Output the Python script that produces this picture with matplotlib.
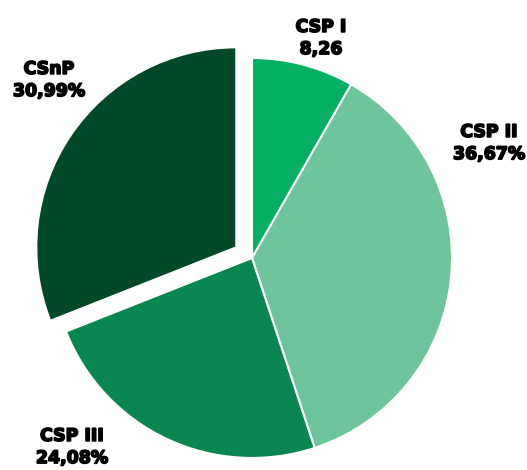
import matplotlib.pyplot as plt
import matplotlib.patheffects as pe

# data
labels = ['CSP I', 'CSP II', 'CSP III', 'CSnP']
values = [8.26, 36.67, 24.08, 30.99]
value_txt = ['8,26', '36,67%', '24,08%', '30,99%']
colors = ['#05b062', '#6ec59c', '#0a8650', '#024a27']
explode = [0, 0, 0, 19]   # in pixel units here (axes are in pixels)

# label positions (pixels from top-left)
label_pos = [(321, 38), (489, 143), (72, 447), (49, 80)]

W, H = 527, 470
fig = plt.figure(figsize=(W / 100, H / 100), dpi=100)
ax = fig.add_axes([0, 0, 1, 1])

ax.pie(values, colors=colors, explode=explode, startangle=90, counterclock=False,
       center=(252, H - 258), radius=200, frame=True,
       wedgeprops=dict(edgecolor='white', linewidth=1.5))
ax.set_xlim(0, W)
ax.set_ylim(0, H)
ax.set_aspect('equal')
ax.axis('off')

for lab, val, (x, y) in zip(labels, value_txt, label_pos):
    ax.text(x, H - y, lab + '\n' + val, ha='center', va='center',
            fontsize=12.5, fontweight='bold', family='DejaVu Sans',
            linespacing=1.3, color='black',
            path_effects=[pe.withStroke(linewidth=1.2, foreground='black')])

fig.savefig('out.png', dpi=100)
